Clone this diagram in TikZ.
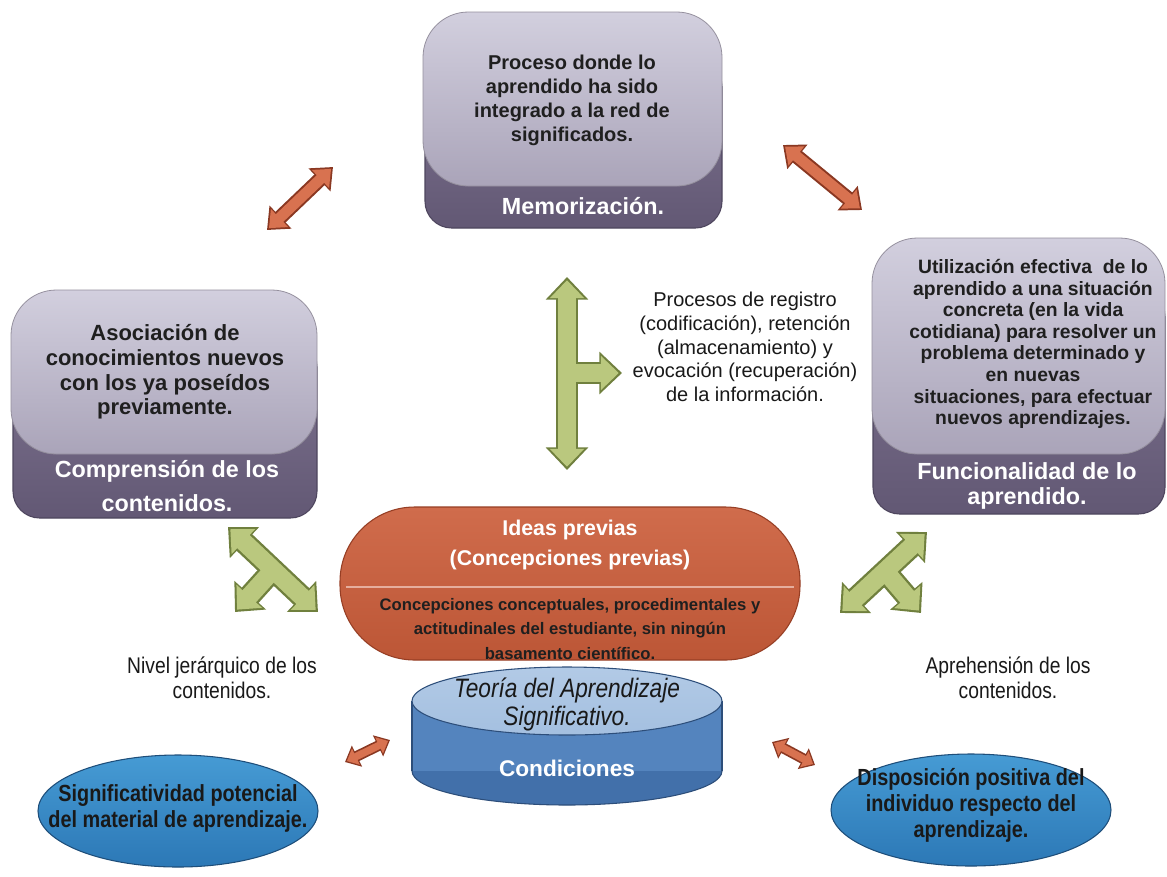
\documentclass[tikz,border=0pt]{standalone}
\usepackage{fontspec}
\setmainfont{Liberation Sans}
\newfontfamily\narrowsans[FakeStretch=0.85]{Liberation Sans}
\usetikzlibrary{arrows.meta, shapes.geometric, positioning}

\definecolor{boxlight}{RGB}{210,207,222}
\definecolor{boxlightb}{RGB}{170,164,185}
\definecolor{boxdark}{RGB}{128,117,146}
\definecolor{boxdarkb}{RGB}{98,88,116}
\definecolor{boxedge}{RGB}{78,70,94}
\definecolor{ideaorange}{RGB}{208,108,76}
\definecolor{ideaorangeb}{RGB}{188,86,54}
\definecolor{ideaedge}{RGB}{150,62,36}
\definecolor{cylblue}{RGB}{84,132,190}
\definecolor{cylblueb}{RGB}{66,112,170}
\definecolor{cyltop}{RGB}{178,202,230}
\definecolor{cyledge}{RGB}{45,78,122}
\definecolor{ellblue}{RGB}{70,155,212}
\definecolor{ellblueb}{RGB}{44,120,182}
\definecolor{elledge}{RGB}{30,78,122}
\definecolor{arrorange}{RGB}{216,114,80}
\definecolor{arroredge}{RGB}{138,56,34}
\definecolor{arrgreen}{RGB}{186,200,126}
\definecolor{arrgreenedge}{RGB}{112,128,62}

\tikzset{
  backbox/.style={draw=boxedge, line width=0.8pt, top color=boxdark, bottom color=boxdarkb, rounded corners=20pt},
  frontbox/.style={draw=boxedge!60, line width=0.6pt, top color=boxlight, bottom color=boxlightb, rounded corners=34pt},
  boxtext/.style={align=center, inner sep=0pt, text=black!88, font={\bfseries\fontsize{15}{18}\selectfont}},
  boxlabel/.style={align=center, inner sep=0pt, text=white, font={\bfseries\fontsize{17.5}{19}\selectfont}},
  plaintext/.style={align=center, inner sep=0pt, text=black!90, font={\narrowsans\fontsize{17}{18.5}\selectfont}},
  condell/.style={draw=elledge, line width=0.8pt, top color=ellblue, bottom color=ellblueb},
  elltext/.style={align=center, inner sep=0pt, text=black!90, font={\narrowsans\bfseries\fontsize{17.5}{19.5}\selectfont}},
  oborder/.style={draw=arroredge, line width=11pt, {Triangle[width=23pt,length=14pt]}-{Triangle[width=23pt,length=14pt]}},
  ofill/.style={draw=arrorange, line width=8pt, shorten <=2pt, shorten >=2pt, {Triangle[width=18pt,length=11pt]}-{Triangle[width=18pt,length=11pt]}},
  sborder/.style={draw=arroredge, line width=8pt, {Triangle[width=17pt,length=10pt]}-{Triangle[width=17pt,length=10pt]}},
  sfill/.style={draw=arrorange, line width=5.5pt, shorten <=1.6pt, shorten >=1.6pt, {Triangle[width=13pt,length=7.5pt]}-{Triangle[width=13pt,length=7.5pt]}},
  gborder/.style={draw=arrgreenedge, line width=17pt, {Triangle[width=31pt,length=17pt]}-{Triangle[width=31pt,length=17pt]}},
  gfill/.style={draw=arrgreen, line width=13.5pt, shorten <=2.4pt, shorten >=2.4pt, {Triangle[width=25pt,length=13.5pt]}-{Triangle[width=25pt,length=13.5pt]}},
  gborderone/.style={draw=arrgreenedge, line width=17pt, -{Triangle[width=31pt,length=17pt]}},
  gfillone/.style={draw=arrgreen, line width=13.5pt, shorten >=2.4pt, -{Triangle[width=25pt,length=13.5pt]}},
}

\begin{document}
\begin{tikzpicture}[x=0.75pt,y=0.75pt,yscale=-1,xscale=1]
\useasboundingbox (0,0) rectangle (1167,876);
\fill[white] (0,0) rectangle (1167,876);

%Shape: Memorizacion box
\draw[backbox] (425,60) rectangle (722,228);
\draw[frontbox] (423,12) rectangle (722,186);
% Text Node
\node[boxtext] (memT) at (572,100) {Proceso donde lo\\aprendido ha sido\\integrado a la red de\\significados.};
\node[boxlabel] (memL) at (583,206) {Memorización.};

%Shape: Comprension box
\draw[backbox] (13,340) rectangle (317,518);
\draw[frontbox] (11,290) rectangle (317,454);
% Text Node
\node[boxtext, font={\bfseries\fontsize{16.5}{18.5}\selectfont}] (comT) at (165,372) {Asociación de\\conocimientos nuevos\\con los ya poseídos\\previamente.};
\node[boxlabel, font={\bfseries\fontsize{17.5}{25}\selectfont}] (comL) at (167,486) {Comprensión de los\\contenidos.};

%Shape: Funcionalidad box
\draw[backbox] (873,290) rectangle (1165,514);
\draw[frontbox] (872,238) rectangle (1165,454);
% Text Node
\node[boxtext, font={\bfseries\fontsize{14.5}{16.2}\selectfont}] (funT) at (1033,344) {Utilización efectiva\ \ de lo\\aprendido a una situación\\concreta (en la vida\\cotidiana) para resolver un\\problema determinado y\\en nuevas\\situaciones, para efectuar\\nuevos aprendizajes.};
\node[boxlabel] (funL) at (1027,486) {Funcionalidad\ de lo\\aprendido.};

%Shape: Ideas previas pill
\draw[draw=ideaedge, line width=0.8pt, top color=ideaorange, bottom color=ideaorangeb, rounded corners=56pt] (340,507) rectangle (800,660);
\draw[line width=1.2pt, draw=ideaorange!55!white] (346,587) -- (794,587);
% Text Node
\node[boxlabel, font={\bfseries\fontsize{16}{22.5}\selectfont}] (ideaT) at (570,545) {Ideas previas\\(Concepciones previas)};
\node[boxtext, font={\bfseries\fontsize{12.5}{18.5}\selectfont}] (ideaD) at (570,629) {Concepciones conceptuales, procedimentales y\\actitudinales del estudiante, sin ningún\\basamento científico.};

%Shape: Teoria cylinder
\draw[draw=cyledge, line width=0.8pt, fill=cylblueb] (567,771) ellipse [x radius=155, y radius=34];
\fill[cylblue] (412,701) rectangle (722,771);
\draw[draw=cyledge, line width=0.8pt] (412,701) -- (412,771) (722,701) -- (722,771);
\draw[draw=cyledge, line width=0.8pt, top color=cyltop, bottom color=cyltop!85!cylblue] (567,701) ellipse [x radius=155, y radius=34];
% Text Node
\node[plaintext, font={\narrowsans\itshape\fontsize{20}{21}\selectfont}] (teoT) at (567,704) {Teoría del Aprendizaje\\Significativo.};
\node[boxlabel, font={\bfseries\fontsize{17}{20}\selectfont}] (conT) at (567,768) {Condiciones};

%Shape: condition ellipses
\draw[condell] (178,811) ellipse [x radius=140, y radius=56];
\draw[condell] (971,810) ellipse [x radius=140, y radius=56];
% Text Node
\node[elltext] (sigT) at (178,808) {Significatividad potencial\\del material de aprendizaje.};
\node[elltext] (disT) at (971,805) {Disposición positiva del\\individuo respecto del\\aprendizaje.};

% Text Node
\node[plaintext] (nivL) at (222,678) {Nivel jerárquico de los\\contenidos.};
\node[plaintext] (aprL) at (1008,678) {Aprehensión de los\\contenidos.};
\node[plaintext, font={\fontsize{15}{17.8}\selectfont}] (proL) at (745,347) {Procesos de registro\\(codificación), retención\\(almacenamiento) y\\evocación (recuperación)\\de la información.};

%Straight Lines: orange double arrows
\coordinate (o1a) at (267,230); \coordinate (o1b) at (333,167);
\coordinate (o2a) at (783,145); \coordinate (o2b) at (862,210);
\coordinate (o3a) at (345,762); \coordinate (o3b) at (390,740);
\coordinate (o4a) at (772,742); \coordinate (o4b) at (815,765);
\draw[oborder] (o1a) -- (o1b);
\draw[ofill] (o1a) -- (o1b);
\draw[oborder] (o2a) -- (o2b);
\draw[ofill] (o2a) -- (o2b);
\draw[sborder] (o3a) -- (o3b);
\draw[sfill] (o3a) -- (o3b);
\draw[sborder] (o4a) -- (o4b);
\draw[sfill] (o4a) -- (o4b);

%Straight Lines: green T arrows
\coordinate (gvA) at (567,277); \coordinate (gvB) at (567,470);
\coordinate (gvJ) at (567,373); \coordinate (gvR) at (622,373);
\coordinate (glA) at (228,527); \coordinate (glB) at (318,612);
\coordinate (glJ) at (273,570); \coordinate (glC) at (235,612);
\coordinate (grA) at (927,532); \coordinate (grB) at (840,613);
\coordinate (grJ) at (885,571); \coordinate (grC) at (921,613);
\draw[gborder] (gvA) -- (gvB);
\draw[gborderone] (gvJ) -- (gvR);
\draw[gfill] (gvA) -- (gvB);
\draw[gfillone] (gvJ) -- (gvR);
\draw[gborder] (glA) -- (glB);
\draw[gborderone] (glJ) -- (glC);
\draw[gfill] (glA) -- (glB);
\draw[gfillone] (glJ) -- (glC);
\draw[gborder] (grA) -- (grB);
\draw[gborderone] (grJ) -- (grC);
\draw[gfill] (grA) -- (grB);
\draw[gfillone] (grJ) -- (grC);

\end{tikzpicture}
\end{document}
